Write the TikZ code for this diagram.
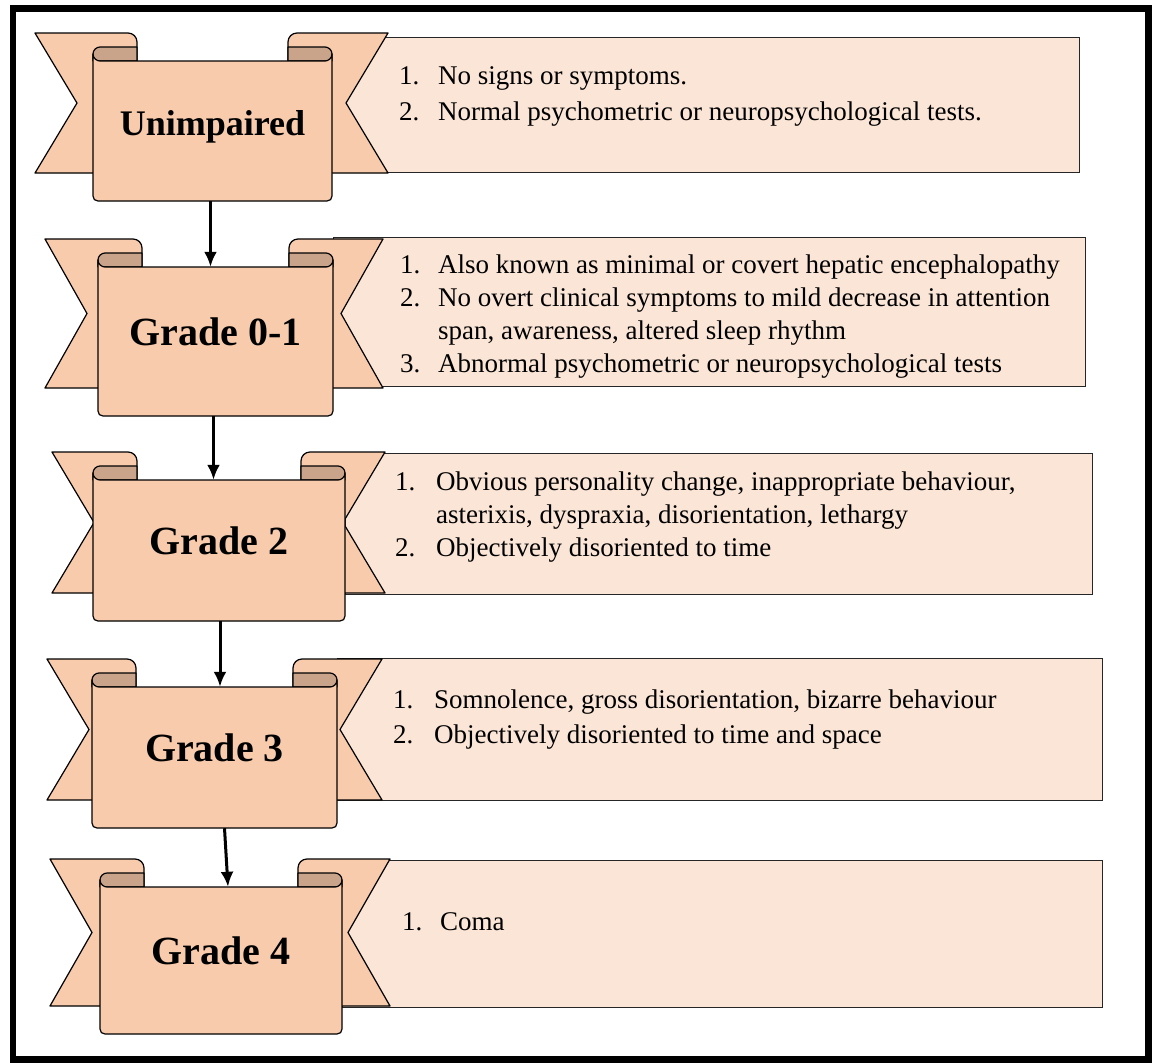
\documentclass[tikz,border=0pt]{standalone}
\usepackage{fontspec}
\setmainfont{Liberation Serif}
\usetikzlibrary{arrows.meta,positioning}
\definecolor{ribpeach}{HTML}{F8CBAD}
\definecolor{ribdark}{HTML}{C9A48A}
\definecolor{boxpeach}{HTML}{FBE5D6}
\tikzset{
ribbonfill/.style={
  fill=ribpeach,
  draw=black,
  line width=1.2pt,
  line join=round
  },
foldfill/.style={
  fill=ribdark,
  draw=black,
  line width=1.2pt,
  line join=round
  },
descbox/.style={
  fill=boxpeach,
  draw=black!85,
  line width=1.3pt,
  inner sep=0pt
  },
ribtitle/.style={
  font=\bfseries\fontsize{40}{44}\selectfont,
  inner sep=0pt
  },
desctext/.style={
  font=\fontsize{27}{33}\selectfont,
  inner sep=0pt,
  anchor=base west
  },
flowarrow/.style={
  line width=3pt,
  -{Latex[length=15pt,width=13pt]}
  }
}
% #1 name, #2 outer left, #3 panel left, #4 panel right, #5 outer right,
% #6 tail top, #7 tail bottom, #8 title
\newcommand{\ribbon}[8]{%
  \pgfmathsetmacro\rbP{#6+28}
  \pgfmathsetmacro\rbPb{#7+28}
  \pgfmathsetmacro\rbM{(#6+#7)/2}
  \pgfmathsetmacro\rbLc{#3+44}
  \pgfmathsetmacro\rbRc{#4-44}
  \pgfmathsetmacro\rbH{\rbP-14}
  \pgfmathsetmacro\rbHm{\rbP-7}
  % tails
  \draw[ribbonfill] (#2,#6) -- ({\rbLc-9},#6)
    .. controls ({\rbLc-4},#6) and (\rbLc,{#6+4}) .. (\rbLc,{#6+9})
    -- (\rbLc,#7) -- (#2,#7) -- ({#2+42},\rbM) -- cycle;
  \draw[ribbonfill] (#5,#6) -- ({\rbRc+9},#6)
    .. controls ({\rbRc+4},#6) and (\rbRc,{#6+4}) .. (\rbRc,{#6+9})
    -- (\rbRc,#7) -- (#5,#7) -- ({#5-42},\rbM) -- cycle;
  % folds
  \draw[foldfill] (#3,\rbHm) .. controls (#3,{\rbH+3}) and ({#3+3.5},\rbH) .. ({#3+7},\rbH)
    -- (\rbLc,\rbH) -- (\rbLc,\rbP) -- (#3,\rbP) -- cycle;
  \draw[foldfill] (#4,\rbHm) .. controls (#4,{\rbH+3}) and ({#4-3.5},\rbH) .. ({#4-7},\rbH)
    -- (\rbRc,\rbH) -- (\rbRc,\rbP) -- (#4,\rbP) -- cycle;
  % front panel
  \draw[ribbonfill] (#3,\rbHm) .. controls (#3,{\rbP-3}) and ({#3+3.5},\rbP) .. ({#3+7},\rbP)
    -- ({#4-7},\rbP) .. controls ({#4-3.5},\rbP) and (#4,{\rbP-3}) .. (#4,\rbHm)
    -- (#4,{\rbPb-5}) .. controls (#4,{\rbPb-2}) and ({#4-2},\rbPb) .. ({#4-5},\rbPb)
    -- ({#3+5},\rbPb) .. controls ({#3+2},\rbPb) and (#3,{\rbPb-2}) .. (#3,{\rbPb-5}) -- cycle;
  \node[inner sep=0pt,minimum width={#4-#3},minimum height={#7-#6}]
    (#1) at ({(#3+#4)/2},{(\rbP+\rbPb)/2}) {};
  \node[ribtitle,anchor=base] (#1-t) at ({(#3+#4)/2},{\rbP+0.53*(#7-#6)}) {#8};
}
\begin{document}
\begin{tikzpicture}[x=1pt,y=-1pt]
\useasboundingbox (0,0) rectangle (1152,1063);

\draw[line width=6.5pt] (13,8.5) rectangle (1148.5,1059.5);

% boxes behind the ribbons
\node[descbox,anchor=north west,minimum width=747pt,minimum height=135pt] (d1) at (332,37) {};
\node[descbox,anchor=north west,minimum width=752pt,minimum height=149pt] (d2) at (333,237) {};
\node[descbox,anchor=north west,minimum width=747pt,minimum height=141pt] (d3) at (345,453) {};
\node[descbox,anchor=north west,minimum width=765pt,minimum height=142pt] (d4) at (337,658) {};
\node[descbox,anchor=north west,minimum width=760pt,minimum height=147pt] (d5) at (342,860) {};

\ribbon{g1}{35}{93}{332}{388}{33}{173}{\fontsize{36}{40}\selectfont Unimpaired}
\ribbon{g2}{45}{98}{333}{383}{239}{388}{Grade 0-1}
\ribbon{g3}{52}{93}{345}{385}{452}{593}{Grade 2}
\ribbon{g4}{47}{92}{337}{382}{659}{800}{Grade 3}
\ribbon{g5}{50}{100}{342}{390}{859}{1006}{Grade 4}

\node[desctext,font=\fontsize{27}{36}\selectfont] (l1) at (399,84)
{\begin{tabular}[t]{@{}p{39pt}@{}l@{}}
1. & No signs or symptoms.\\
2. & Normal psychometric or neuropsychological tests.
\end{tabular}};

\node[desctext] (l2) at (400,273)
{\begin{tabular}[t]{@{}p{38pt}@{}l@{}}
1. & Also known as minimal or covert hepatic encephalopathy\\
2. & No overt clinical symptoms to mild decrease in attention\\
   & span, awareness, altered sleep rhythm\\
3. & Abnormal psychometric or neuropsychological tests
\end{tabular}};

\node[desctext] (l3) at (395,490)
{\begin{tabular}[t]{@{}p{41pt}@{}l@{}}
1. & Obvious personality change, inappropriate behaviour,\\
   & asterixis, dyspraxia, disorientation, lethargy\\
2. & Objectively disoriented to time
\end{tabular}};

\node[desctext,font=\fontsize{27}{35}\selectfont] (l4) at (393,708)
{\begin{tabular}[t]{@{}p{41pt}@{}l@{}}
1. & Somnolence, gross disorientation, bizarre behaviour\\
2. & Objectively disoriented to time and space
\end{tabular}};

\node[desctext] (l5) at (402,930)
{\begin{tabular}[t]{@{}p{38pt}@{}l@{}}
1. & Coma
\end{tabular}};

\draw[flowarrow] ([xshift=-2pt]g1.south) -- ([xshift=-2pt]g1.south |- g2.north);
\draw[flowarrow] ([xshift=-2pt]g2.south) -- ([xshift=-2pt]g2.south |- g3.north);
\draw[flowarrow] ([xshift=1pt]g3.south) -- ([xshift=1pt]g3.south |- g4.north);
\draw[flowarrow] ([xshift=10pt]g4.south) -- ([xshift=7pt]g5.north);

\end{tikzpicture}
\end{document}
